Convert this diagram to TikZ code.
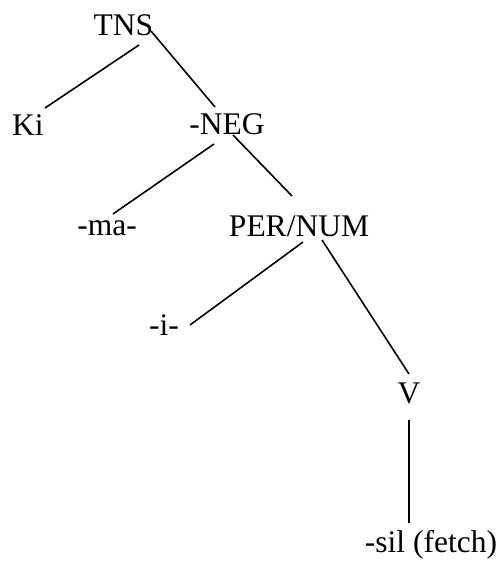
\documentclass[tikz,border=0pt]{standalone}
\usepackage{fontspec}
\setmainfont{Liberation Serif}
\usepackage{tikz}

\begin{document}
\begin{tikzpicture}
 [x=1pt, y=-1pt,
  morph node/.style={inner sep=0pt, anchor=base, font=\fontsize{31.5}{37}\selectfont},
  branch/.style={line width=1.6pt}]

\useasboundingbox (0,0) rectangle (501,563);

\node[morph node] (tns) at (123.5,35) {TNS};
\node[morph node] (ki) at (28,135) {Ki};
\node[morph node] (neg) at (227,134) {-NEG};
\node[morph node] (ma) at (107,235) {-ma-};
\node[morph node] (pn) at (299,236) {PER/NUM};
\node[morph node] (i) at (164,335) {-i-};
\node[morph node] (v) at (409,403) {V};
\node[morph node] (sil) at (431,552) {-sil (fetch)};

\path
  ([shift={(15.5,10)}]tns.base) edge [branch] ([shift={(17,-27)}]ki.base)
  ([shift={(27.5,-4)}]tns.base) edge [branch] ([shift={(-12,-27)}]neg.base)

  ([shift={(-13,10)}]neg.base) edge [branch] ([shift={(6,-21)}]ma.base)
  ([shift={(6,1)}]neg.base) edge [branch] ([shift={(-7,-40)}]pn.base)

  ([shift={(4,6)}]pn.base) edge [branch] ([shift={(26,-10)}]i.base)
  ([shift={(23,4)}]pn.base) edge [branch] ([shift={(0,-29)}]v.base)

  ([shift={(0,17)}]v.base) edge [branch] ([shift={(-22,-29)}]sil.base);

\end{tikzpicture}
\end{document}
